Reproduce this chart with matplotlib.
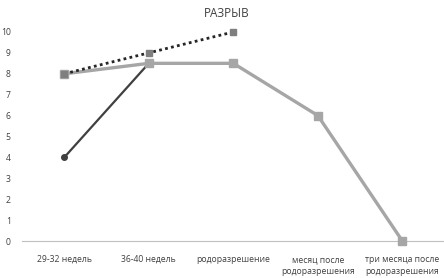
import matplotlib
matplotlib.use("Agg")
import matplotlib.pyplot as plt

categories = ["29-32 недель", "36-40 недель", "родоразрешение",
              "месяц после\nродоразрешения", "три месяца после\nродоразрешения"]
dark_series = [4, 8.5]
gray_series = [8, 8.5, 8.5, 6, 0]
dotted_series = [8, 9, 10]
yticks = list(range(0, 11))
title = "РАЗРЫВ"

plt.rcParams['font.family'] = ['Open Sans', 'DejaVu Sans']
fig = plt.figure(figsize=(4.44, 2.78), dpi=100)
ax = fig.add_axes([0.0495, 0.133, 0.952, 0.752])

x = list(range(len(categories)))
ax.plot(x[:len(dark_series)], dark_series, color="#404040", lw=1.6,
        marker="o", ms=4, zorder=2, clip_on=False)
ax.plot(x, gray_series, color="#a6a6a6", lw=2.4, marker="s", ms=6,
        zorder=3, clip_on=False)
ax.plot(x[:len(dotted_series)], dotted_series, color="#262626", lw=2.0,
        ls=(0, (1, 1.2)), marker="s", ms=5, mfc="#7f7f7f", mec="#7f7f7f",
        zorder=4, clip_on=False)

ax.set_xlim(-0.5, len(categories) - 0.5)
ax.set_ylim(0, 10)
ax.set_yticks(yticks)
ax.set_xticks(x)
ax.set_xticklabels(categories, fontsize=6.2, color="#404040", linespacing=1.5)
ax.tick_params(axis='y', labelsize=6.2, labelcolor="#404040", length=0, pad=8)
ax.tick_params(axis='x', length=0, pad=10)
for s in ["top", "right", "left"]:
    ax.spines[s].set_visible(False)
ax.spines["bottom"].set_color("#bfbfbf")
ax.spines["bottom"].set_linewidth(0.8)

fig.text(0.511, 0.953, title, ha="center", va="center", fontsize=8.5,
         color="#404040")

fig.savefig("out.png", dpi=100)
